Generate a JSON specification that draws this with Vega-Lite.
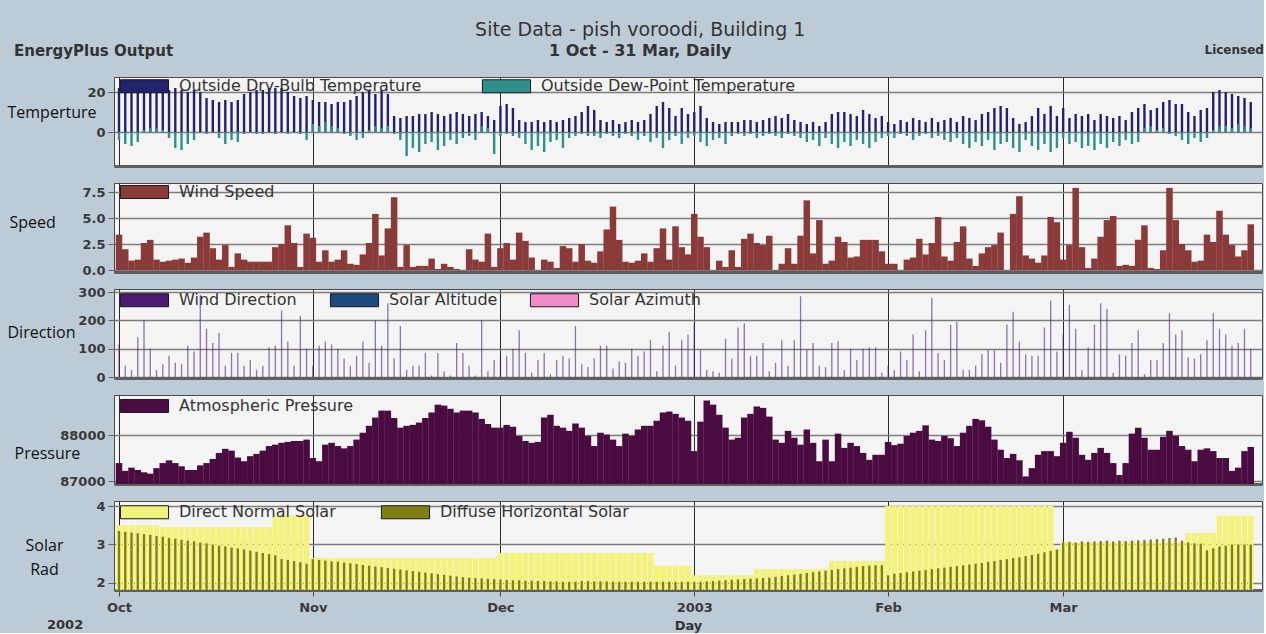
{
"$schema": "https://vega.github.io/schema/vega-lite/v6.json",
"background": "#bdcbd7",
"padding": {"left": 6, "top": 20, "right": 0, "bottom": 0},
"title": {"text": "Site Data - pish voroodi, Building 1", "subtitle": "1 Oct - 31 Mar, Daily", "anchor": "middle", "offset": -16, "dx": 5, "font": "DejaVu Sans", "fontSize": 19, "fontWeight": "normal", "color": "#333", "subtitleFont": "DejaVu Sans", "subtitleFontSize": 16, "subtitleFontWeight": "bold", "subtitleColor": "#333", "subtitlePadding": 3},
"datasets": {"d": [
{"date":"2002-10-01","db":22,"dp":-4,"ws":3.4,"wd":115,"p":87390,"dn":3.5,"dh":3.35},
{"date":"2002-10-02","db":23,"dp":-6,"ws":2.0,"wd":40,"p":87220,"dn":3.5,"dh":3.33},
{"date":"2002-10-03","db":22,"dp":-7,"ws":0.9,"wd":25,"p":87290,"dn":3.5,"dh":3.31},
{"date":"2002-10-04","db":23,"dp":-5,"ws":1.0,"wd":140,"p":87240,"dn":3.5,"dh":3.29},
{"date":"2002-10-05","db":21,"dp":1,"ws":2.6,"wd":200,"p":87190,"dn":3.5,"dh":3.27},
{"date":"2002-10-06","db":22,"dp":2,"ws":2.9,"wd":100,"p":87160,"dn":3.5,"dh":3.25},
{"date":"2002-10-07","db":23,"dp":2,"ws":1.0,"wd":25,"p":87280,"dn":3.5,"dh":3.22},
{"date":"2002-10-08","db":22,"dp":1,"ws":0.8,"wd":45,"p":87390,"dn":3.45,"dh":3.20},
{"date":"2002-10-09","db":21,"dp":-3,"ws":0.9,"wd":75,"p":87450,"dn":3.45,"dh":3.17},
{"date":"2002-10-10","db":22,"dp":-8,"ws":1.0,"wd":50,"p":87390,"dn":3.45,"dh":3.15},
{"date":"2002-10-11","db":21,"dp":-9,"ws":1.1,"wd":45,"p":87320,"dn":3.45,"dh":3.12},
{"date":"2002-10-12","db":20,"dp":-6,"ws":0.7,"wd":110,"p":87240,"dn":3.45,"dh":3.10},
{"date":"2002-10-13","db":21,"dp":-4,"ws":1.2,"wd":90,"p":87240,"dn":3.45,"dh":3.08},
{"date":"2002-10-14","db":20,"dp":0,"ws":3.2,"wd":290,"p":87340,"dn":3.45,"dh":3.05},
{"date":"2002-10-15","db":17,"dp":-1,"ws":3.6,"wd":170,"p":87390,"dn":3.45,"dh":3.03},
{"date":"2002-10-16","db":16,"dp":0,"ws":2.1,"wd":120,"p":87480,"dn":3.45,"dh":3.00},
{"date":"2002-10-17","db":15,"dp":-3,"ws":1.0,"wd":155,"p":87610,"dn":3.45,"dh":2.97},
{"date":"2002-10-18","db":16,"dp":-6,"ws":2.4,"wd":40,"p":87700,"dn":3.45,"dh":2.95},
{"date":"2002-10-19","db":15,"dp":-4,"ws":0.3,"wd":85,"p":87660,"dn":3.45,"dh":2.92},
{"date":"2002-10-20","db":16,"dp":-5,"ws":1.6,"wd":85,"p":87510,"dn":3.45,"dh":2.90},
{"date":"2002-10-21","db":19,"dp":-1,"ws":1.0,"wd":40,"p":87430,"dn":3.45,"dh":2.87},
{"date":"2002-10-22","db":20,"dp":0,"ws":0.8,"wd":60,"p":87540,"dn":3.45,"dh":2.84},
{"date":"2002-10-23","db":21,"dp":-1,"ws":0.8,"wd":25,"p":87590,"dn":3.45,"dh":2.81},
{"date":"2002-10-24","db":21,"dp":-1,"ws":0.8,"wd":40,"p":87660,"dn":3.45,"dh":2.78},
{"date":"2002-10-25","db":22,"dp":0,"ws":0.8,"wd":105,"p":87760,"dn":3.45,"dh":2.75},
{"date":"2002-10-26","db":22,"dp":-1,"ws":2.2,"wd":110,"p":87790,"dn":3.75,"dh":2.72},
{"date":"2002-10-27","db":22,"dp":0,"ws":2.5,"wd":235,"p":87830,"dn":3.75,"dh":2.62},
{"date":"2002-10-28","db":20,"dp":-1,"ws":4.3,"wd":125,"p":87850,"dn":3.75,"dh":2.60},
{"date":"2002-10-29","db":18,"dp":0,"ws":2.6,"wd":40,"p":87870,"dn":3.75,"dh":2.57},
{"date":"2002-10-30","db":17,"dp":-1,"ws":0.3,"wd":215,"p":87870,"dn":3.75,"dh":2.54},
{"date":"2002-10-31","db":18,"dp":-4,"ws":3.5,"wd":100,"p":87900,"dn":3.75,"dh":2.50},
{"date":"2002-11-01","db":16,"dp":4,"ws":3.1,"wd":40,"p":87500,"dn":2.65,"dh":2.62},
{"date":"2002-11-02","db":15,"dp":3,"ws":0.8,"wd":110,"p":87430,"dn":2.65,"dh":2.60},
{"date":"2002-11-03","db":15,"dp":5,"ws":1.9,"wd":125,"p":87790,"dn":2.65,"dh":2.58},
{"date":"2002-11-04","db":14,"dp":3,"ws":0.8,"wd":115,"p":87830,"dn":2.65,"dh":2.56},
{"date":"2002-11-05","db":15,"dp":2,"ws":1.0,"wd":100,"p":87760,"dn":2.65,"dh":2.55},
{"date":"2002-11-06","db":15,"dp":-1,"ws":1.9,"wd":65,"p":87710,"dn":2.65,"dh":2.53},
{"date":"2002-11-07","db":16,"dp":-2,"ws":0.6,"wd":40,"p":87760,"dn":2.65,"dh":2.51},
{"date":"2002-11-08","db":18,"dp":-4,"ws":0.5,"wd":75,"p":87900,"dn":2.65,"dh":2.49},
{"date":"2002-11-09","db":20,"dp":-3,"ws":1.5,"wd":125,"p":88050,"dn":2.65,"dh":2.47},
{"date":"2002-11-10","db":21,"dp":1,"ws":2.6,"wd":50,"p":88200,"dn":2.65,"dh":2.45},
{"date":"2002-11-11","db":19,"dp":3,"ws":5.4,"wd":200,"p":88380,"dn":2.65,"dh":2.43},
{"date":"2002-11-12","db":21,"dp":2,"ws":1.4,"wd":110,"p":88530,"dn":2.65,"dh":2.41},
{"date":"2002-11-13","db":19,"dp":3,"ws":4.0,"wd":260,"p":88530,"dn":2.65,"dh":2.39},
{"date":"2002-11-14","db":8,"dp":-1,"ws":7.0,"wd":65,"p":88370,"dn":2.65,"dh":2.37},
{"date":"2002-11-15","db":7,"dp":-4,"ws":0.3,"wd":180,"p":88160,"dn":2.65,"dh":2.35},
{"date":"2002-11-16","db":8,"dp":-12,"ws":2.4,"wd":25,"p":88200,"dn":2.65,"dh":2.33},
{"date":"2002-11-17","db":8,"dp":-8,"ws":0.3,"wd":40,"p":88220,"dn":2.65,"dh":2.31},
{"date":"2002-11-18","db":9,"dp":-10,"ws":0.4,"wd":40,"p":88270,"dn":2.65,"dh":2.29},
{"date":"2002-11-19","db":9,"dp":-6,"ws":0.4,"wd":85,"p":88370,"dn":2.65,"dh":2.27},
{"date":"2002-11-20","db":10,"dp":-5,"ws":1.1,"wd":5,"p":88490,"dn":2.65,"dh":2.25},
{"date":"2002-11-21","db":9,"dp":-9,"ws":0.1,"wd":85,"p":88660,"dn":2.65,"dh":2.23},
{"date":"2002-11-22","db":8,"dp":-7,"ws":0.6,"wd":20,"p":88640,"dn":2.65,"dh":2.21},
{"date":"2002-11-23","db":9,"dp":-4,"ws":0.3,"wd":5,"p":88570,"dn":2.65,"dh":2.19},
{"date":"2002-11-24","db":10,"dp":-6,"ws":0.1,"wd":120,"p":88490,"dn":2.65,"dh":2.17},
{"date":"2002-11-25","db":9,"dp":-3,"ws":0.0,"wd":85,"p":88530,"dn":2.65,"dh":2.15},
{"date":"2002-11-26","db":8,"dp":-2,"ws":2.0,"wd":40,"p":88530,"dn":2.65,"dh":2.14},
{"date":"2002-11-27","db":9,"dp":-4,"ws":1.0,"wd":5,"p":88490,"dn":2.65,"dh":2.13},
{"date":"2002-11-28","db":10,"dp":3,"ws":0.8,"wd":200,"p":88350,"dn":2.65,"dh":2.12},
{"date":"2002-11-29","db":8,"dp":2,"ws":3.5,"wd":20,"p":88240,"dn":2.65,"dh":2.11},
{"date":"2002-11-30","db":6,"dp":-11,"ws":0.3,"wd":60,"p":88160,"dn":2.65,"dh":2.10},
{"date":"2002-12-01","db":13,"dp":-2,"ws":2.1,"wd":65,"p":88160,"dn":2.78,"dh":2.09},
{"date":"2002-12-02","db":14,"dp":-1,"ws":2.6,"wd":75,"p":88220,"dn":2.78,"dh":2.08},
{"date":"2002-12-03","db":12,"dp":-2,"ws":1.0,"wd":100,"p":88180,"dn":2.78,"dh":2.07},
{"date":"2002-12-04","db":6,"dp":-3,"ws":3.6,"wd":165,"p":87980,"dn":2.78,"dh":2.07},
{"date":"2002-12-05","db":5,"dp":-6,"ws":2.8,"wd":85,"p":87870,"dn":2.78,"dh":2.06},
{"date":"2002-12-06","db":5,"dp":-9,"ws":1.2,"wd":15,"p":87830,"dn":2.78,"dh":2.06},
{"date":"2002-12-07","db":6,"dp":-7,"ws":0.0,"wd":60,"p":87850,"dn":2.78,"dh":2.05},
{"date":"2002-12-08","db":5,"dp":-10,"ws":1.0,"wd":85,"p":88380,"dn":2.78,"dh":2.05},
{"date":"2002-12-09","db":6,"dp":-5,"ws":0.8,"wd":10,"p":88440,"dn":2.78,"dh":2.04},
{"date":"2002-12-10","db":5,"dp":-4,"ws":0.2,"wd":60,"p":88200,"dn":2.78,"dh":2.04},
{"date":"2002-12-11","db":6,"dp":-8,"ws":2.3,"wd":75,"p":88160,"dn":2.78,"dh":2.03},
{"date":"2002-12-12","db":7,"dp":-3,"ws":2.1,"wd":65,"p":88090,"dn":2.78,"dh":2.03},
{"date":"2002-12-13","db":8,"dp":-2,"ws":0.8,"wd":180,"p":88250,"dn":2.78,"dh":2.03},
{"date":"2002-12-14","db":10,"dp":-1,"ws":2.5,"wd":45,"p":88160,"dn":2.78,"dh":2.05},
{"date":"2002-12-15","db":13,"dp":-2,"ws":0.9,"wd":35,"p":87980,"dn":2.78,"dh":2.05},
{"date":"2002-12-16","db":11,"dp":-2,"ws":0.7,"wd":65,"p":87760,"dn":2.78,"dh":2.04},
{"date":"2002-12-17","db":6,"dp":-3,"ws":1.8,"wd":110,"p":88050,"dn":2.78,"dh":2.04},
{"date":"2002-12-18","db":5,"dp":-1,"ws":3.9,"wd":110,"p":88010,"dn":2.78,"dh":2.04},
{"date":"2002-12-19","db":6,"dp":-2,"ws":6.1,"wd":30,"p":87900,"dn":2.78,"dh":2.03},
{"date":"2002-12-20","db":4,"dp":-3,"ws":2.9,"wd":55,"p":87760,"dn":2.78,"dh":2.03},
{"date":"2002-12-21","db":5,"dp":-1,"ws":0.8,"wd":50,"p":88030,"dn":2.78,"dh":2.03},
{"date":"2002-12-22","db":6,"dp":-2,"ws":0.7,"wd":100,"p":87980,"dn":2.78,"dh":2.03},
{"date":"2002-12-23","db":5,"dp":-4,"ws":0.9,"wd":75,"p":88120,"dn":2.78,"dh":2.03},
{"date":"2002-12-24","db":6,"dp":-2,"ws":1.6,"wd":90,"p":88200,"dn":2.78,"dh":2.03},
{"date":"2002-12-25","db":9,"dp":-5,"ws":0.8,"wd":130,"p":88200,"dn":2.78,"dh":2.03},
{"date":"2002-12-26","db":13,"dp":-3,"ws":2.1,"wd":20,"p":88310,"dn":2.45,"dh":2.03},
{"date":"2002-12-27","db":15,"dp":-8,"ws":4.0,"wd":110,"p":88490,"dn":2.45,"dh":2.03},
{"date":"2002-12-28","db":12,"dp":-4,"ws":1.0,"wd":160,"p":88510,"dn":2.45,"dh":2.03},
{"date":"2002-12-29","db":8,"dp":-2,"ws":4.2,"wd":40,"p":88460,"dn":2.45,"dh":2.03},
{"date":"2002-12-30","db":12,"dp":-6,"ws":2.2,"wd":130,"p":88380,"dn":2.45,"dh":2.03},
{"date":"2002-12-31","db":9,"dp":-3,"ws":1.5,"wd":150,"p":88310,"dn":2.45,"dh":2.03},
{"date":"2003-01-01","db":10,"dp":-2,"ws":5.4,"wd":190,"p":87650,"dn":2.2,"dh":2.03},
{"date":"2003-01-02","db":13,"dp":-5,"ws":3.2,"wd":95,"p":88290,"dn":2.2,"dh":2.03},
{"date":"2003-01-03","db":7,"dp":-7,"ws":2.2,"wd":25,"p":88750,"dn":2.2,"dh":2.04},
{"date":"2003-01-04","db":5,"dp":-4,"ws":0.0,"wd":20,"p":88660,"dn":2.2,"dh":2.05},
{"date":"2003-01-05","db":4,"dp":-3,"ws":0.9,"wd":15,"p":88440,"dn":2.2,"dh":2.06},
{"date":"2003-01-06","db":5,"dp":-6,"ws":0.3,"wd":135,"p":88160,"dn":2.2,"dh":2.07},
{"date":"2003-01-07","db":5,"dp":-2,"ws":1.9,"wd":65,"p":87900,"dn":2.2,"dh":2.08},
{"date":"2003-01-08","db":5,"dp":-1,"ws":0.3,"wd":175,"p":87940,"dn":2.2,"dh":2.09},
{"date":"2003-01-09","db":6,"dp":-2,"ws":3.0,"wd":190,"p":88380,"dn":2.2,"dh":2.10},
{"date":"2003-01-10","db":6,"dp":-1,"ws":3.5,"wd":75,"p":88460,"dn":2.2,"dh":2.11},
{"date":"2003-01-11","db":5,"dp":-3,"ws":2.6,"wd":75,"p":88620,"dn":2.36,"dh":2.12},
{"date":"2003-01-12","db":6,"dp":-2,"ws":2.4,"wd":120,"p":88590,"dn":2.36,"dh":2.13},
{"date":"2003-01-13","db":7,"dp":-1,"ws":3.3,"wd":20,"p":88400,"dn":2.36,"dh":2.14},
{"date":"2003-01-14","db":8,"dp":-2,"ws":0.0,"wd":50,"p":87900,"dn":2.36,"dh":2.16},
{"date":"2003-01-15","db":7,"dp":-3,"ws":0.6,"wd":130,"p":87830,"dn":2.36,"dh":2.18},
{"date":"2003-01-16","db":9,"dp":-1,"ws":2.1,"wd":40,"p":88090,"dn":2.36,"dh":2.20},
{"date":"2003-01-17","db":6,"dp":-2,"ws":0.6,"wd":130,"p":87940,"dn":2.36,"dh":2.22},
{"date":"2003-01-18","db":5,"dp":-3,"ws":3.3,"wd":285,"p":87790,"dn":2.36,"dh":2.24},
{"date":"2003-01-19","db":4,"dp":-5,"ws":6.7,"wd":95,"p":88120,"dn":2.36,"dh":2.26},
{"date":"2003-01-20","db":5,"dp":-4,"ws":1.6,"wd":120,"p":87830,"dn":2.36,"dh":2.28},
{"date":"2003-01-21","db":3,"dp":-7,"ws":4.8,"wd":40,"p":87430,"dn":2.36,"dh":2.30},
{"date":"2003-01-22","db":5,"dp":-3,"ws":0.6,"wd":35,"p":87900,"dn":2.36,"dh":2.32},
{"date":"2003-01-23","db":9,"dp":-6,"ws":0.9,"wd":120,"p":87430,"dn":2.57,"dh":2.34},
{"date":"2003-01-24","db":10,"dp":-8,"ws":3.2,"wd":125,"p":88030,"dn":2.57,"dh":2.36},
{"date":"2003-01-25","db":10,"dp":-5,"ws":2.7,"wd":25,"p":87720,"dn":2.57,"dh":2.38},
{"date":"2003-01-26","db":9,"dp":-7,"ws":1.2,"wd":100,"p":87830,"dn":2.57,"dh":2.40},
{"date":"2003-01-27","db":8,"dp":-4,"ws":1.3,"wd":60,"p":87760,"dn":2.57,"dh":2.42},
{"date":"2003-01-28","db":11,"dp":-6,"ws":2.9,"wd":100,"p":87610,"dn":2.57,"dh":2.44},
{"date":"2003-01-29","db":9,"dp":-8,"ws":2.9,"wd":105,"p":87460,"dn":2.57,"dh":2.45},
{"date":"2003-01-30","db":7,"dp":-5,"ws":2.9,"wd":105,"p":87570,"dn":2.57,"dh":2.46},
{"date":"2003-01-31","db":8,"dp":-3,"ws":1.8,"wd":15,"p":87570,"dn":2.57,"dh":2.46},
{"date":"2003-02-01","db":5,"dp":-2,"ws":0.6,"wd":40,"p":87850,"dn":4.0,"dh":2.20},
{"date":"2003-02-02","db":4,"dp":-3,"ws":0.6,"wd":25,"p":87780,"dn":4.0,"dh":2.24},
{"date":"2003-02-03","db":6,"dp":-1,"ws":0.0,"wd":90,"p":87810,"dn":4.0,"dh":2.26},
{"date":"2003-02-04","db":5,"dp":-2,"ws":1.0,"wd":60,"p":87980,"dn":4.0,"dh":2.28},
{"date":"2003-02-05","db":7,"dp":-4,"ws":1.2,"wd":150,"p":88050,"dn":4.0,"dh":2.30},
{"date":"2003-02-06","db":6,"dp":-2,"ws":3.0,"wd":20,"p":88090,"dn":4.0,"dh":2.32},
{"date":"2003-02-07","db":5,"dp":-1,"ws":1.5,"wd":165,"p":88210,"dn":4.0,"dh":2.34},
{"date":"2003-02-08","db":7,"dp":-3,"ws":2.6,"wd":280,"p":87900,"dn":4.0,"dh":2.36},
{"date":"2003-02-09","db":5,"dp":-2,"ws":5.1,"wd":85,"p":87870,"dn":4.0,"dh":2.38},
{"date":"2003-02-10","db":6,"dp":-4,"ws":1.3,"wd":60,"p":87980,"dn":4.0,"dh":2.40},
{"date":"2003-02-11","db":7,"dp":-5,"ws":0.9,"wd":185,"p":87930,"dn":4.0,"dh":2.42},
{"date":"2003-02-12","db":5,"dp":-3,"ws":2.7,"wd":195,"p":87760,"dn":4.0,"dh":2.44},
{"date":"2003-02-13","db":8,"dp":-6,"ws":4.2,"wd":25,"p":88050,"dn":4.0,"dh":2.46},
{"date":"2003-02-14","db":7,"dp":-8,"ws":1.1,"wd":25,"p":88200,"dn":4.0,"dh":2.48},
{"date":"2003-02-15","db":6,"dp":-5,"ws":0.4,"wd":40,"p":88350,"dn":4.0,"dh":2.50},
{"date":"2003-02-16","db":9,"dp":-7,"ws":1.6,"wd":80,"p":88320,"dn":4.0,"dh":2.52},
{"date":"2003-02-17","db":10,"dp":-4,"ws":2.2,"wd":95,"p":88180,"dn":4.0,"dh":2.55},
{"date":"2003-02-18","db":12,"dp":-9,"ws":2.4,"wd":95,"p":87900,"dn":4.0,"dh":2.57},
{"date":"2003-02-19","db":13,"dp":-6,"ws":3.6,"wd":50,"p":87680,"dn":4.0,"dh":2.60},
{"date":"2003-02-20","db":12,"dp":-5,"ws":0.0,"wd":185,"p":87500,"dn":4.0,"dh":2.62},
{"date":"2003-02-21","db":7,"dp":-8,"ws":5.4,"wd":230,"p":87590,"dn":4.0,"dh":2.65},
{"date":"2003-02-22","db":4,"dp":-10,"ws":7.1,"wd":125,"p":87450,"dn":4.0,"dh":2.67},
{"date":"2003-02-23","db":5,"dp":-4,"ws":1.4,"wd":80,"p":87100,"dn":4.0,"dh":2.70},
{"date":"2003-02-24","db":8,"dp":-7,"ws":1.1,"wd":75,"p":87280,"dn":4.0,"dh":2.73},
{"date":"2003-02-25","db":12,"dp":-9,"ws":0.7,"wd":75,"p":87570,"dn":4.0,"dh":2.76},
{"date":"2003-02-26","db":9,"dp":-6,"ws":1.4,"wd":175,"p":87650,"dn":4.0,"dh":2.80},
{"date":"2003-02-27","db":13,"dp":-10,"ws":5.1,"wd":270,"p":87650,"dn":4.0,"dh":2.83},
{"date":"2003-02-28","db":8,"dp":-8,"ws":4.6,"wd":90,"p":87540,"dn":2.9,"dh":2.87},
{"date":"2003-03-01","db":12,"dp":-3,"ws":1.0,"wd":150,"p":87830,"dn":3.05,"dh":3.05},
{"date":"2003-03-02","db":7,"dp":-6,"ws":2.4,"wd":255,"p":88070,"dn":3.05,"dh":3.07},
{"date":"2003-03-03","db":9,"dp":-5,"ws":7.9,"wd":170,"p":87940,"dn":3.05,"dh":3.05},
{"date":"2003-03-04","db":8,"dp":-8,"ws":2.2,"wd":25,"p":87570,"dn":3.05,"dh":3.08},
{"date":"2003-03-05","db":9,"dp":-7,"ws":0.2,"wd":105,"p":87460,"dn":3.05,"dh":3.07},
{"date":"2003-03-06","db":6,"dp":-9,"ws":1.1,"wd":185,"p":87610,"dn":3.05,"dh":3.08},
{"date":"2003-03-07","db":9,"dp":-6,"ws":3.2,"wd":260,"p":87720,"dn":3.05,"dh":3.09},
{"date":"2003-03-08","db":8,"dp":-8,"ws":4.8,"wd":240,"p":87610,"dn":3.05,"dh":3.10},
{"date":"2003-03-09","db":7,"dp":-5,"ws":5.2,"wd":15,"p":87390,"dn":3.05,"dh":3.08},
{"date":"2003-03-10","db":8,"dp":-7,"ws":0.4,"wd":80,"p":87130,"dn":3.05,"dh":3.10},
{"date":"2003-03-11","db":6,"dp":-4,"ws":0.5,"wd":75,"p":87390,"dn":3.05,"dh":3.09},
{"date":"2003-03-12","db":10,"dp":-6,"ws":0.4,"wd":120,"p":88030,"dn":3.05,"dh":3.10},
{"date":"2003-03-13","db":12,"dp":-5,"ws":2.9,"wd":165,"p":88160,"dn":3.05,"dh":3.11},
{"date":"2003-03-14","db":14,"dp":2,"ws":4.3,"wd":10,"p":87940,"dn":3.05,"dh":3.12},
{"date":"2003-03-15","db":11,"dp":3,"ws":0.2,"wd":60,"p":87680,"dn":3.05,"dh":3.13},
{"date":"2003-03-16","db":12,"dp":1,"ws":0.1,"wd":60,"p":87680,"dn":3.05,"dh":3.14},
{"date":"2003-03-17","db":15,"dp":2,"ws":1.9,"wd":120,"p":87960,"dn":3.05,"dh":3.15},
{"date":"2003-03-18","db":16,"dp":-1,"ws":7.9,"wd":225,"p":88090,"dn":3.05,"dh":3.17},
{"date":"2003-03-19","db":14,"dp":-2,"ws":4.8,"wd":150,"p":87980,"dn":3.05,"dh":3.18},
{"date":"2003-03-20","db":14,"dp":-4,"ws":2.5,"wd":165,"p":87760,"dn":3.05,"dh":3.10},
{"date":"2003-03-21","db":10,"dp":-6,"ws":1.9,"wd":70,"p":87680,"dn":3.3,"dh":3.05},
{"date":"2003-03-22","db":8,"dp":-3,"ws":0.8,"wd":65,"p":87430,"dn":3.3,"dh":3.03},
{"date":"2003-03-23","db":11,"dp":-5,"ws":0.9,"wd":80,"p":87680,"dn":3.3,"dh":3.02},
{"date":"2003-03-24","db":12,"dp":-3,"ws":3.4,"wd":130,"p":87710,"dn":3.3,"dh":2.85},
{"date":"2003-03-25","db":20,"dp":1,"ws":2.7,"wd":225,"p":87650,"dn":3.3,"dh":2.90},
{"date":"2003-03-26","db":21,"dp":3,"ws":5.7,"wd":170,"p":87500,"dn":3.75,"dh":2.95},
{"date":"2003-03-27","db":20,"dp":3,"ws":3.4,"wd":150,"p":87500,"dn":3.75,"dh":2.97},
{"date":"2003-03-28","db":19,"dp":2,"ws":2.4,"wd":110,"p":87220,"dn":3.75,"dh":3.00},
{"date":"2003-03-29","db":18,"dp":4,"ws":1.3,"wd":120,"p":87290,"dn":3.75,"dh":3.00},
{"date":"2003-03-30","db":17,"dp":3,"ws":1.9,"wd":170,"p":87650,"dn":3.75,"dh":3.00},
{"date":"2003-03-31","db":15,"dp":2,"ws":4.4,"wd":100,"p":87740,"dn":3.75,"dh":3.00}
]},
"spacing": 17,
"bounds": "flush",
"resolve": {"scale": {"color": "independent"}, "legend": {"color": "independent"}},
"vconcat": [
{
 "data": {"name": "d"},
 "width": 1148, "height": 89,
 "title": {"text": "EnergyPlus Output", "anchor": "start", "frame": "group", "dx": -100, "offset": -16, "font": "DejaVu Sans", "fontSize": 15, "fontWeight": "bold", "color": "#333"},
 "layer": [
  {"mark": {"type": "bar", "width": 2.4, "clip": true},
   "encoding": {
    "x": {"field": "date", "type": "temporal", "scale": {"type": "utc", "domain": [{"year": 2002, "month": 10, "date": 1, "utc": true}, {"year": 2003, "month": 4, "date": 1, "utc": true}]},
          "axis": {"orient": "bottom", "values": [{"year": 2002, "month": 10, "date": 1, "utc": true}, {"year": 2002, "month": 11, "date": 1, "utc": true}, {"year": 2002, "month": 12, "date": 1, "utc": true}, {"year": 2003, "month": 1, "date": 1, "utc": true}, {"year": 2003, "month": 2, "date": 1, "utc": true}, {"year": 2003, "month": 3, "date": 1, "utc": true}], "labels": false, "ticks": false, "title": null, "domain": true, "domainColor": "#5e5e5e", "domainWidth": 3, "grid": true, "gridColor": "#2a2a2a", "gridWidth": 1}},
    "y": {"field": "db", "type": "quantitative", "scale": {"domain": [-17, 27.5], "nice": false, "zero": false},
          "axis": {"values": [0, 20], "title": "Temperture", "titleX": -107, "titleY": 35}},
    "y2": {"datum": 0},
    "color": {"datum": "Outside Dry-Bulb Temperature", "scale": {"domain": ["Outside Dry-Bulb Temperature", "Outside Dew-Point Temperature"], "range": ["#22226e", "#2e8f8c"]},
              "legend": {"orient": "none", "legendX": 22.5, "legendY": 1, "columnPadding": 58}}
   }},
  {"mark": {"type": "bar", "width": 2.4, "clip": true},
   "encoding": {
    "x": {"field": "date", "type": "temporal",
          "axis": {"orient": "top", "labels": false, "ticks": false, "domain": false, "grid": false, "title": "Licensed", "titleX": 1090, "titleY": -28, "titleAlign": "left", "titleBaseline": "middle", "titleAngle": 0, "titleFont": "DejaVu Sans", "titleFontSize": 12, "titleFontWeight": "bold", "titleColor": "#333"}},
    "y": {"field": "dp", "type": "quantitative"},
    "y2": {"datum": 0},
    "color": {"datum": "Outside Dew-Point Temperature"}
   }}
 ]
},
{
 "data": {"name": "d"},
 "width": 1148, "height": 89,
 "mark": {"type": "bar", "width": 6.5, "clip": true},
 "encoding": {
  "x": {"field": "date", "type": "temporal", "scale": {"type": "utc", "domain": [{"year": 2002, "month": 10, "date": 1, "utc": true}, {"year": 2003, "month": 4, "date": 1, "utc": true}]},
        "axis": {"values": [{"year": 2002, "month": 10, "date": 1, "utc": true}, {"year": 2002, "month": 11, "date": 1, "utc": true}, {"year": 2002, "month": 12, "date": 1, "utc": true}, {"year": 2003, "month": 1, "date": 1, "utc": true}, {"year": 2003, "month": 2, "date": 1, "utc": true}, {"year": 2003, "month": 3, "date": 1, "utc": true}], "labels": false, "ticks": false, "title": null, "domain": true, "domainColor": "#5e5e5e", "domainWidth": 3, "grid": true, "gridColor": "#2a2a2a", "gridWidth": 1}},
  "y": {"field": "ws", "type": "quantitative", "scale": {"domain": [-0.19, 8.37], "nice": false, "zero": false},
        "axis": {"values": [0, 2.5, 5, 7.5], "format": ".1f", "title": "Speed", "titleX": -105, "titleY": 39}},
  "y2": {"datum": 0},
  "color": {"datum": "Wind Speed", "scale": {"domain": ["Wind Speed"], "range": ["#8b3a3a"]},
            "legend": {"orient": "none", "legendX": 22.5, "legendY": 1}}
 }
},
{
 "data": {"name": "d"},
 "width": 1148, "height": 89,
 "mark": {"type": "bar", "width": 1.3, "clip": true, "opacity": 0.6},
 "encoding": {
  "x": {"field": "date", "type": "temporal", "scale": {"type": "utc", "domain": [{"year": 2002, "month": 10, "date": 1, "utc": true}, {"year": 2003, "month": 4, "date": 1, "utc": true}]},
        "axis": {"values": [{"year": 2002, "month": 10, "date": 1, "utc": true}, {"year": 2002, "month": 11, "date": 1, "utc": true}, {"year": 2002, "month": 12, "date": 1, "utc": true}, {"year": 2003, "month": 1, "date": 1, "utc": true}, {"year": 2003, "month": 2, "date": 1, "utc": true}, {"year": 2003, "month": 3, "date": 1, "utc": true}], "labels": false, "ticks": false, "title": null, "domain": true, "domainColor": "#5e5e5e", "domainWidth": 3, "grid": true, "gridColor": "#2a2a2a", "gridWidth": 1}},
  "y": {"field": "wd", "type": "quantitative", "scale": {"domain": [-3.5, 310.6], "nice": false, "zero": false},
        "axis": {"values": [0, 100, 200, 300], "title": "Direction", "titleX": -107, "titleY": 43}},
  "y2": {"datum": 0},
  "color": {"datum": "Wind Direction", "scale": {"domain": ["Wind Direction", "Solar Altitude", "Solar Azimuth"], "range": ["#4b1a74", "#1d4a7c", "#f28cc8"]},
            "legend": {"orient": "none", "legendX": 22.5, "legendY": 3, "columnPadding": 30, "symbolOpacity": 1}}
 }
},
{
 "data": {"name": "d"},
 "width": 1148, "height": 89,
 "mark": {"type": "bar", "width": 6.5, "clip": true},
 "encoding": {
  "x": {"field": "date", "type": "temporal", "scale": {"type": "utc", "domain": [{"year": 2002, "month": 10, "date": 1, "utc": true}, {"year": 2003, "month": 4, "date": 1, "utc": true}]},
        "axis": {"values": [{"year": 2002, "month": 10, "date": 1, "utc": true}, {"year": 2002, "month": 11, "date": 1, "utc": true}, {"year": 2002, "month": 12, "date": 1, "utc": true}, {"year": 2003, "month": 1, "date": 1, "utc": true}, {"year": 2003, "month": 2, "date": 1, "utc": true}, {"year": 2003, "month": 3, "date": 1, "utc": true}], "labels": false, "ticks": false, "title": null, "domain": true, "domainColor": "#5e5e5e", "domainWidth": 3, "grid": true, "gridColor": "#2a2a2a", "gridWidth": 1}},
  "y": {"field": "p", "type": "quantitative", "scale": {"domain": [86935, 88870], "nice": false, "zero": false},
        "axis": {"values": [87000, 88000], "format": "d", "title": "Pressure", "titleX": -100, "titleY": 58}},
  "y2": {"datum": 86800},
  "color": {"datum": "Atmospheric Pressure", "scale": {"domain": ["Atmospheric Pressure"], "range": ["#4a0b40"]},
            "legend": {"orient": "none", "legendX": 22.5, "legendY": 3}}
 }
},
{
 "data": {"name": "d"},
 "width": 1148, "height": 89,
 "title": {"text": "2002", "orient": "bottom", "anchor": "start", "frame": "group", "dx": -67, "offset": -13, "font": "DejaVu Sans", "fontSize": 13, "fontWeight": "bold", "color": "#333"},
 "layer": [
  {"mark": {"type": "bar", "width": 5.6, "clip": true},
   "encoding": {
    "x": {"field": "date", "type": "temporal", "scale": {"type": "utc", "domain": [{"year": 2002, "month": 10, "date": 1, "utc": true}, {"year": 2003, "month": 4, "date": 1, "utc": true}]},
          "axis": {"values": [{"year": 2002, "month": 10, "date": 1, "utc": true}, {"year": 2002, "month": 11, "date": 1, "utc": true}, {"year": 2002, "month": 12, "date": 1, "utc": true}, {"year": 2003, "month": 1, "date": 1, "utc": true}, {"year": 2003, "month": 2, "date": 1, "utc": true}, {"year": 2003, "month": 3, "date": 1, "utc": true}], "labelExpr": "utcmonth(datum.value) == 0 ? '2003' : utcFormat(datum.value, '%b')", "labelFont": "DejaVu Sans", "labelFontSize": 13, "labelFontWeight": "bold", "labelColor": "#3a3a3a", "labelPadding": 5, "ticks": true, "tickSize": 6, "tickColor": "#444", "title": "Day", "titleFont": "DejaVu Sans", "titleFontSize": 13, "titleFontWeight": "bold", "titleColor": "#333", "titlePadding": 5, "domain": true, "domainColor": "#5e5e5e", "domainWidth": 3, "grid": true, "gridColor": "#2a2a2a", "gridWidth": 1}},
    "y": {"field": "dn", "type": "quantitative", "scale": {"domain": [1.818, 4.13], "nice": false, "zero": false},
          "axis": {"values": [2, 3, 4], "title": ["Solar", "Rad"], "titleX": -70, "titleY": 44, "titleAlign": "center", "titleLineHeight": 24}},
    "y2": {"datum": 1.5},
    "color": {"datum": "Direct Normal Solar", "scale": {"domain": ["Direct Normal Solar", "Diffuse Horizontal Solar"], "range": ["#f3f27a", "#7f7f14"]},
              "legend": {"orient": "none", "legendX": 22.5, "legendY": 3, "columnPadding": 42}}
   }},
  {"mark": {"type": "bar", "width": 2.3, "clip": true},
   "encoding": {
    "x": {"field": "date", "type": "temporal"},
    "y": {"field": "dh", "type": "quantitative"},
    "y2": {"datum": 1.5},
    "color": {"datum": "Diffuse Horizontal Solar"}
   }}
 ]
}
],
"config": {
 "view": {"fill": "#f4f4f4", "stroke": "#4a4a4a", "strokeWidth": 1},
 "axis": {"labelFont": "DejaVu Sans", "labelFontSize": 13, "labelFontWeight": "bold", "labelColor": "#3a3a3a", "tickColor": "#666", "tickSize": 6, "labelPadding": 3, "titleFont": "Open Sans", "titleFontSize": 16, "titleFontWeight": "normal", "titleColor": "#111", "gridColor": "#7c7c7c", "gridWidth": 1.5, "gridOpacity": 1, "domain": false},
 "axisY": {"titleAngle": 0, "titleAlign": "left", "titleBaseline": "middle", "grid": true},
 "legend": {"direction": "horizontal", "title": null, "symbolType": "M-3.7,-1H3.7V1H-3.7Z", "symbolSize": 169, "symbolStrokeColor": "#1a1a1a", "symbolStrokeWidth": 1, "labelFont": "DejaVu Sans", "labelFontSize": 16, "labelColor": "#333", "labelOffset": 26.5, "padding": 0, "columnPadding": 50, "labelLimit": 400}
}
}
